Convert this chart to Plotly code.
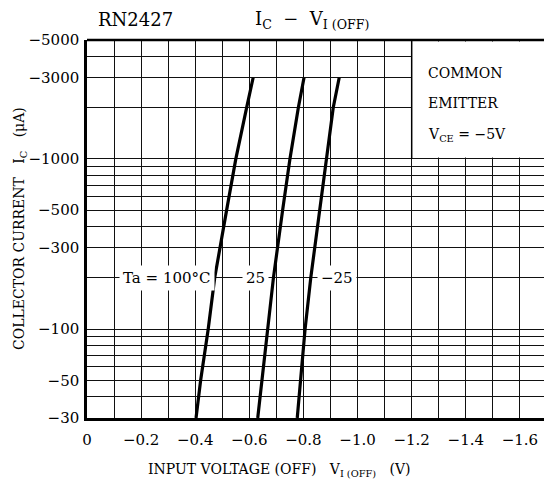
import math
import plotly.graph_objects as go

# ---- data ----
ic_ua = [30, 50, 100, 200, 500, 1000, 2000, 3000]          # |I_C| in uA
vi_ta100 = [-0.403, -0.420, -0.448, -0.472, -0.516, -0.550, -0.590, -0.614]
vi_ta25 = [-0.631, -0.646, -0.666, -0.689, -0.723, -0.750, -0.781, -0.802]
vi_tam25 = [-0.777, -0.790, -0.806, -0.827, -0.861, -0.886, -0.910, -0.932]

series_names = ["Ta = 100°C", "25", "−25"]
label_x = [-0.296, -0.624, -0.924]
label_ic = 200

x_tickvals = [round(-0.1 * i, 1) for i in range(0, 17)]
x_ticktext = ["0" if v == 0 else ("−%.1f" % abs(v) if i % 2 == 0 else "")
              for i, v in enumerate(x_tickvals)]

y_gridvals = [30, 40, 50, 60, 70, 80, 90, 100, 200, 300, 400, 500, 600, 700, 800, 900,
              1000, 2000, 3000, 4000, 5000]
y_labeled = [30, 50, 100, 300, 500, 1000, 3000, 5000]
y_ticktext = ["−%d" % v if v in y_labeled else "" for v in y_gridvals]

X_MIN, X_MAX = 0.0, -1.689
Y_MIN, Y_MAX = 30, 5000

FONT = "DejaVu Serif"

fig = go.Figure()
for vs in (vi_ta100, vi_ta25, vi_tam25):
    fig.add_trace(go.Scatter(x=vs, y=ic_ua, mode="lines",
                             line=dict(color="black", width=3.2),
                             showlegend=False, hoverinfo="skip"))

def ypaper(v):
    return (math.log10(v) - math.log10(Y_MIN)) / (math.log10(Y_MAX) - math.log10(Y_MIN))

def px_x(p):
    return (p - 87) / 457

def px_y(p):
    return (418 - p) / 378

annotations = []
for name, lx in zip(series_names, label_x):
    annotations.append(dict(x=lx, y=math.log10(label_ic), xref="x", yref="y",
                            xanchor="center", yanchor="middle",
                            text=name, showarrow=False, bgcolor="white", borderpad=3,
                            font=dict(family=FONT, size=15, color="black")))

# box text
box_y = [73, 103, 135]
box_txt = ["COMMON", "EMITTER", "V<sub>CE</sub> = −5V"]
for t, py in zip(box_txt, box_y):
    annotations.append(dict(x=px_x(426), y=px_y(py), xref="paper", yref="paper",
                            xanchor="left", yanchor="middle", text=t, showarrow=False,
                            font=dict(family=FONT, size=14, color="black")))

# titles
annotations.append(dict(x=px_x(135), y=px_y(20), xref="paper", yref="paper",
                        xanchor="center", yanchor="middle",
                        text="RN2427", showarrow=False,
                        font=dict(family=FONT, size=18, color="black")))
annotations.append(dict(x=px_x(312), y=px_y(20), xref="paper", yref="paper",
                        xanchor="center", yanchor="middle",
                        text="I<sub>C</sub>  −  V<sub>I (OFF)</sub>", showarrow=False,
                        font=dict(family=FONT, size=18, color="black")))
annotations.append(dict(x=px_x(279), y=px_y(470), xref="paper", yref="paper",
                        xanchor="center", yanchor="middle",
                        text="INPUT VOLTAGE (OFF)   V<sub>I (OFF)</sub>   (V)", showarrow=False,
                        font=dict(family=FONT, size=14, color="black")))
annotations.append(dict(x=px_x(20), y=0.5, xref="paper", yref="paper",
                        text="COLLECTOR CURRENT   I<sub>C</sub>   (μA)", textangle=-90,
                        showarrow=False, xanchor="center", yanchor="middle",
                        font=dict(family=FONT, size=14, color="black")))

shapes = [
    dict(type="rect", xref="x", yref="paper", x0=-1.2, x1=-1.8, y0=ypaper(1000) + 0.004, y1=0.996,
         fillcolor="white", line=dict(width=0), layer="above"),
    dict(type="line", xref="x", yref="paper", x0=-1.2, x1=-1.2, y0=ypaper(1000), y1=1,
         line=dict(color="black", width=1.5), layer="above"),
    dict(type="line", xref="paper", yref="paper", x0=0, x1=1, y0=1, y1=1,
         line=dict(color="black", width=2.5), layer="above"),
]

fig.update_layout(
    width=544, height=488,
    margin=dict(l=87, r=0, t=40, b=70),
    paper_bgcolor="white", plot_bgcolor="white",
    showlegend=False,
    annotations=annotations,
    shapes=shapes,
    xaxis=dict(range=[X_MIN, X_MAX], tickvals=x_tickvals, ticktext=x_ticktext,
               showgrid=True, gridcolor="#111", gridwidth=1.2, zeroline=False,
               showline=True, linecolor="black", linewidth=2.5, ticks="",
               ticklabelstandoff=6,
               tickfont=dict(family=FONT, size=15, color="black")),
    yaxis=dict(type="log", range=[math.log10(Y_MIN), math.log10(Y_MAX)],
               tickvals=y_gridvals, ticktext=y_ticktext,
               showgrid=True, gridcolor="#111", gridwidth=1.2, zeroline=False,
               showline=True, linecolor="black", linewidth=2.5, ticks="",
               ticklabelstandoff=2,
               tickfont=dict(family=FONT, size=15, color="black")),
)

fig.write_html("out.html")
